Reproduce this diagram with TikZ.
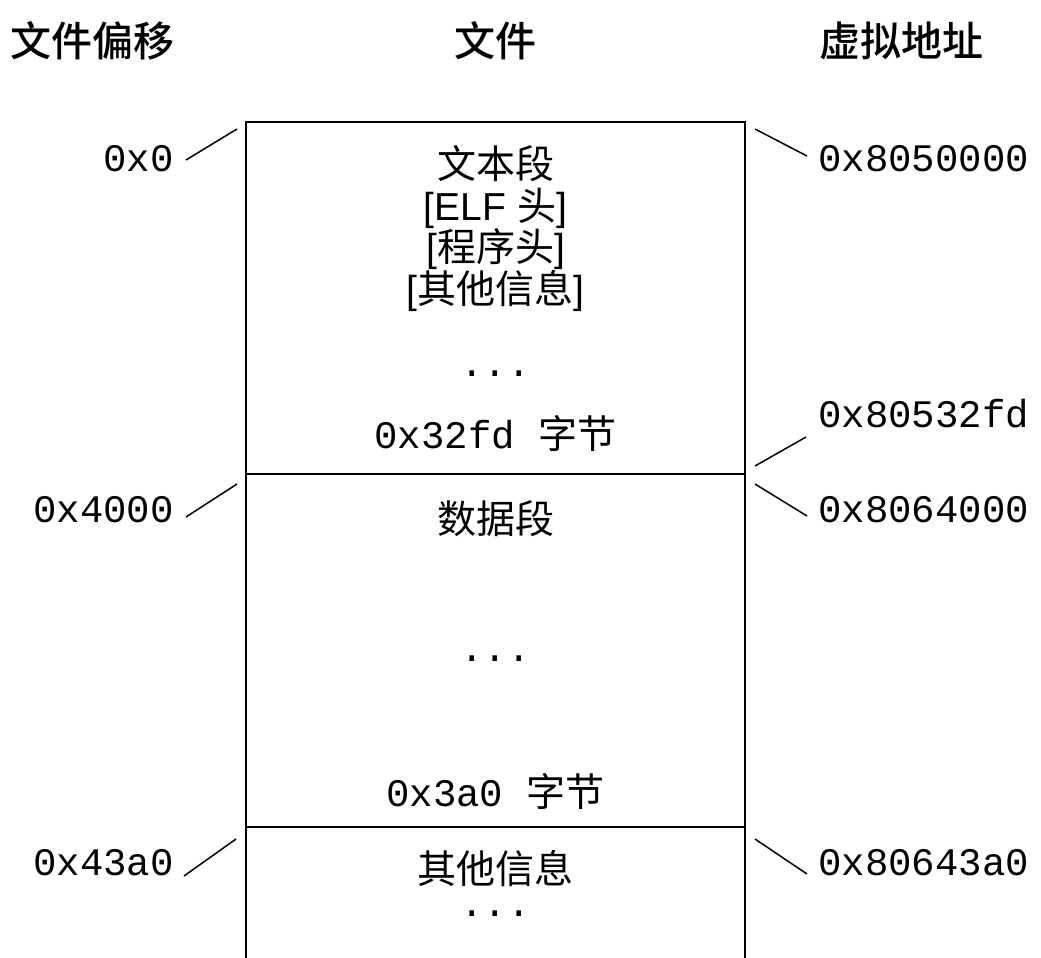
\documentclass[tikz,border=0pt]{standalone}
\usepackage{fontspec}
\setmainfont{Liberation Sans}
\setmonofont{Liberation Mono}
\newfontfamily\cjk{Noto Sans CJK SC}
\newfontfamily\cjkm{Noto Sans CJK SC Medium}
\newcommand\zh[1]{{\cjk #1}}
\begin{document}
\begin{tikzpicture}[x=1pt,y=-1pt,
  hdr/.style={font=\fontsize{41}{44}\selectfont\cjkm, inner sep=0pt},
  seg/.style={font=\fontsize{39}{42}\selectfont, inner sep=0pt, anchor=base},
  dots/.style={font=\fontsize{39}{42}\selectfont\ttfamily, inner sep=0pt, anchor=base},
  addr/.style={font=\fontsize{39}{42}\selectfont\ttfamily, inner sep=0pt},
  box/.style={line width=2pt},
  tick/.style={line width=1.5pt}]
\useasboundingbox (0,0) rectangle (1041,958);
% headers
\node[hdr] (h1) at (92,41) {文件偏移};
\node[hdr] (h2) at (495,41) {文件};
\node[hdr] (h3) at (901,41) {虚拟地址};
% box
\coordinate (tl) at (246,122);
\coordinate (tr) at (745,122);
\coordinate (bl) at (246,958);
\coordinate (br) at (745,958);
\coordinate (d1l) at (246,474);
\coordinate (d1r) at (745,474);
\coordinate (d2l) at (246,827);
\coordinate (d2r) at (745,827);
\draw[box] (bl) -- (tl) -- (tr) -- (br);
\draw[box] (d1l) -- (d1r);
\draw[box] (d2l) -- (d2r);
% segment texts
\node[seg] (t1) at (495.5,178) {\zh{文本段}};
\node[seg] (t2) at (495.5,220) {[ELF \zh{头}]};
\node[seg] (t3) at (495.5,261) {[\zh{程序头}]};
\node[seg] (t4) at (495.5,303) {[\zh{其他信息}]};
\node[dots] (t5) at (495.5,376) {\smash{...}};
\node[seg] (t6) at (495.5,448) {\texttt{0x32fd }\zh{字节}};
\node[seg] (t7) at (495.5,533) {\zh{数据段}};
\node[dots] (t8) at (495.5,661) {\smash{...}};
\node[seg] (t9) at (495.5,806) {\texttt{0x3a0 }\zh{字节}};
\node[seg] (t10) at (495.5,883) {\zh{其他信息}};
\node[dots] (t11) at (495.5,916) {\smash{...}};
% left addresses
\node[addr,anchor=base east] (l0) at (174,171) {0x0};
\node[addr,anchor=base east] (l1) at (174,522) {0x4000};
\node[addr,anchor=base east] (l2) at (174,875) {0x43a0};
% right addresses
\node[addr,anchor=base west] (r0) at (818,171) {0x8050000};
\node[addr,anchor=base west] (r1) at (818,427) {0x80532fd};
\node[addr,anchor=base west] (r2) at (818,522) {0x8064000};
\node[addr,anchor=base west] (r3) at (818,875) {0x80643a0};
% ticks
\coordinate (l0a) at (186,160); \coordinate (l0b) at (237,129);
\coordinate (l1a) at (186,517); \coordinate (l1b) at (237,484);
\coordinate (l2a) at (184,876); \coordinate (l2b) at (236,839);
\coordinate (r0a) at (755,129); \coordinate (r0b) at (807,156);
\coordinate (r1a) at (806,437); \coordinate (r1b) at (755,466);
\coordinate (r2a) at (755,484); \coordinate (r2b) at (807,516);
\coordinate (r3a) at (755,839); \coordinate (r3b) at (807,874);
\draw[tick] (l0a) -- (l0b);
\draw[tick] (l1a) -- (l1b);
\draw[tick] (l2a) -- (l2b);
\draw[tick] (r0a) -- (r0b);
\draw[tick] (r1a) -- (r1b);
\draw[tick] (r2a) -- (r2b);
\draw[tick] (r3a) -- (r3b);
\end{tikzpicture}
\end{document}
